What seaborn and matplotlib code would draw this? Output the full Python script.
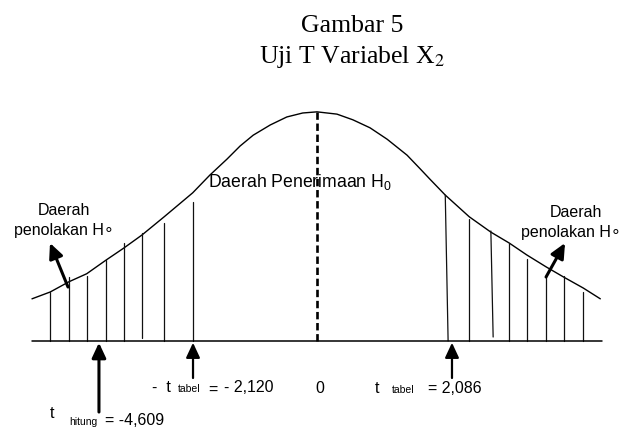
import numpy as np
import pandas as pd
import matplotlib
matplotlib.use("Agg")
import matplotlib.pyplot as plt
import seaborn as sns

# ── Data (schematic units) ──────────────────────────────────────────────────
CURVE_X = [-5.00, -4.68, -4.35, -4.04, -3.70, -3.39, -3.07, -2.68, -2.18, -1.88,
           -1.58, -1.35, -1.12, -0.82, -0.53, -0.25, 0.00, 0.35, 0.63, 0.93,
           1.23, 1.58, 1.81, 1.98, 2.25, 2.67, 3.05, 3.37, 3.68, 4.02,
           4.33, 4.67, 4.97]
CURVE_Y = [0.74, 0.86, 1.04, 1.18, 1.42, 1.63, 1.86, 2.18, 2.60, 2.91,
           3.19, 3.42, 3.61, 3.79, 3.93, 4.00, 4.02, 3.98, 3.88, 3.74,
           3.54, 3.26, 3.02, 2.84, 2.56, 2.18, 1.91, 1.72, 1.51, 1.30,
           1.12, 0.93, 0.74]

# rejection-region hatch lines: top x, bottom x, top height, bottom height
HATCH_TOP_X = [-4.68, -4.35, -4.04, -3.70, -3.39, -3.07, -2.68, -2.18,
               2.25, 2.67, 3.05, 3.37, 3.68, 4.02, 4.33, 4.67]
HATCH_BOT_X = [-4.68, -4.35, -4.04, -3.70, -3.39, -3.07, -2.68, -2.18,
               2.30, 2.67, 3.09, 3.37, 3.68, 4.02, 4.33, 4.67]
HATCH_TOP_Y = [0.86, 1.12, 1.14, 1.42, 1.72, 1.89, 2.07, 2.44,
               2.56, 2.14, 1.93, 1.72, 1.44, 1.14, 1.14, 0.86]
HATCH_BOT_Y = [0.00, 0.00, 0.00, 0.00, 0.00, 0.05, 0.00, 0.00,
               0.00, 0.00, 0.07, 0.00, 0.00, 0.00, 0.00, 0.00]

BASE_X = [-5.00, 5.00]
PEAK_Y = 4.02

T_HITUNG = -4.609
T_TABEL_LEFT = -2.120
T_TABEL_RIGHT = 2.086


def fmt(v):
    return f"{v:.3f}".replace(".", ",")


# ── Figure ──────────────────────────────────────────────────────────────────
sns.set_theme(style="white")
plt.rcParams["font.family"] = ["Liberation Sans", "DejaVu Sans"]
plt.rcParams["text.color"] = "black"
plt.rcParams["mathtext.fontset"] = "custom"
plt.rcParams["mathtext.rm"] = "Liberation Sans"
plt.rcParams["mathtext.it"] = "Liberation Sans"

fig = plt.figure(figsize=(6.23, 4.28), dpi=100)
ax = fig.add_axes([0, 0, 1, 1])
ax.set_xlim(-5.561, 5.368)
ax.set_ylim(-1.526, 5.982)
ax.axis("off")

# curve
sns.lineplot(x=CURVE_X, y=CURVE_Y, color="black", lw=1.0, ax=ax,
             solid_joinstyle="round")

# hatch lines
hatch = pd.DataFrame({
    "x": [v for pair in zip(HATCH_BOT_X, HATCH_TOP_X) for v in pair],
    "y": [v for pair in zip(HATCH_BOT_Y, HATCH_TOP_Y) for v in pair],
    "seg": np.repeat(np.arange(len(HATCH_TOP_X)), 2),
})
sns.lineplot(data=hatch, x="x", y="y", units="seg", estimator=None, sort=False,
             color="#111111", lw=0.9, ax=ax)

# base line and dashed centre line
ax.plot(BASE_X, [0, 0], color="black", lw=1.1)
ax.plot([0, 0], [0, PEAK_Y], color="black", lw=1.9, dashes=(2.8, 1.4))

# arrows
def arrow(tail, tip, lw):
    ax.annotate("", xy=tip, xytext=tail,
                arrowprops=dict(arrowstyle="-|>,head_length=0.9,head_width=0.42",
                                mutation_scale=10, lw=lw, color="black",
                                shrinkA=0, shrinkB=0))

arrow((-3.825, -1.246), (-3.825, -0.03), 2.2)
arrow((-2.175, -0.649), (-2.175, -0.03), 1.6)
arrow((2.368, -0.649), (2.368, -0.03), 1.6)
arrow((-4.368, 0.947), (-4.684, 1.719), 2.2)
arrow((4.018, 1.123), (4.351, 1.719), 2.2)

# title
serif = ["Liberation Serif", "DejaVu Serif"]
ax.text(0.614, 5.421, "Gambar 5", ha="center", va="baseline", fontsize=18.5,
        family=serif)
ax.text(0.614, 4.877, "Uji T Variabel X$_2$", ha="center", va="baseline",
        fontsize=18.5, family=serif, math_fontfamily="stix")

# region labels
ax.text(-1.912, 2.702, r"Daerah Penerimaan H$_\mathrm{0}$", ha="left",
        va="baseline", fontsize=12.7)
ax.text(-4.439, 2.211, "Daerah", ha="center", va="baseline", fontsize=11.5)
ax.text(-4.439, 1.860, "penolakan H\u2218", ha="center", va="baseline",
        fontsize=11.5)
ax.text(4.544, 2.175, "Daerah", ha="center", va="baseline", fontsize=11.5)
ax.text(5.33, 1.825, "penolakan H\u2218", ha="right", va="baseline",
        fontsize=11.5)

# bottom labels
ax.text(0.053, -0.912, "0", ha="center", va="baseline", fontsize=11.5)

ax.text(-2.895, -0.895, "-  t", ha="left", va="baseline", fontsize=11.5)
ax.text(-2.439, -0.895, "tabel", ha="left", va="baseline", fontsize=7.5)
ax.text(-1.912, -0.947, "=", ha="left", va="baseline", fontsize=11.5)
ax.text(-1.632, -0.895, "- " + fmt(abs(T_TABEL_LEFT)), ha="left", va="baseline",
        fontsize=11.5)

ax.text(1.018, -0.912, "t", ha="left", va="baseline", fontsize=11.5)
ax.text(1.316, -0.912, "tabel", ha="left", va="baseline", fontsize=7.5)
ax.text(1.947, -0.912, "= " + fmt(T_TABEL_RIGHT), ha="left", va="baseline",
        fontsize=11.5)

ax.text(-4.684, -1.351, "t", ha="left", va="baseline", fontsize=11.5)
ax.text(-4.351, -1.474, "hitung", ha="left", va="baseline", fontsize=7.5)
ax.text(-3.719, -1.474, "= " + fmt(T_HITUNG), ha="left", va="baseline",
        fontsize=11.5)

fig.savefig("out.png", dpi=100)
